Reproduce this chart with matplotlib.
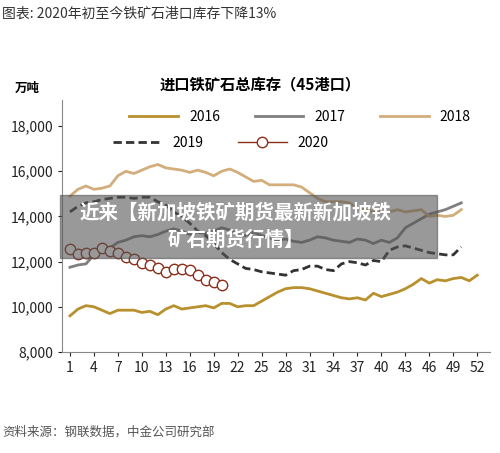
import matplotlib
matplotlib.use("Agg")
import matplotlib.pyplot as plt
from matplotlib.patches import Rectangle

plt.rcParams['font.family'] = ['Noto Sans CJK SC', 'DejaVu Sans']

v2016 = [9600, 9900, 10050, 10000, 9850, 9700, 9850, 9850, 9850, 9750, 9800, 9650, 9900, 10050,
         9900, 9950, 10000, 10050, 9950, 10150, 10150, 10000, 10050, 10050, 10250, 10450, 10650,
         10800, 10850, 10850, 10800, 10700, 10600, 10500, 10400, 10350, 10400, 10300, 10600, 10450,
         10550, 10650, 10800, 11000, 11250, 11050, 11200, 11150, 11250, 11300, 11150, 11400]
v2017 = [11750, 11850, 11900, 12300, 12450, 12600, 12850, 12950, 13100, 13150, 13100, 13200, 13350,
         13450, 13350, 13200, 13300, 13250, 13350, 13500, 13400, 13200, 13150, 13300, 13150, 13050,
         12950, 13000, 12900, 12850, 12950, 13100, 13050, 12950, 12900, 12850, 13000, 12950, 12800,
         12950, 12850, 13050, 13500, 13700, 13900, 14100, 14200, 14300, 14450, 14600]
v2018 = [14900, 15200, 15350, 15200, 15250, 15350, 15800, 16000, 15900, 16050, 16200, 16300, 16150,
         16100, 16050, 15950, 16050, 15950, 15800, 16000, 16100, 15950, 15750, 15550, 15600, 15400,
         15400, 15400, 15400, 15300, 15050, 14800, 14650, 14650, 14650, 14600, 14350, 14300, 14200,
         14200, 14200, 14300, 14200, 14250, 14300, 14000, 14050, 14000, 14050, 14300]
v2019 = [14200, 14450, 14600, 14650, 14750, 14800, 14850, 14850, 14800, 14850, 14850, 14650, 14500,
         14200, 14000, 13700, 13350, 13150, 12800, 12400, 12100, 11900, 11700, 11650, 11550, 11500,
         11450, 11400, 11600, 11650, 11800, 11800, 11650, 11600, 11900, 12000, 11950, 11850, 12050,
         12000, 12500, 12650, 12700, 12600, 12500, 12400, 12350, 12300, 12300, 12650]
v2020 = [12560, 12340, 12380, 12380, 12600, 12470, 12380, 12210, 12120, 11940, 11860, 11720, 11540,
         11680, 11680, 11630, 11410, 11190, 11100, 10970]
xticks = [1, 4, 7, 10, 13, 16, 19, 22, 25, 28, 31, 34, 37, 40, 43, 46, 49, 52]
yticks = [8000, 10000, 12000, 14000, 16000, 18000]

fig = plt.figure(figsize=(5.0, 4.53), dpi=100)
ax = fig.add_axes([0.124, 0.223, 0.856, 0.556])

def wk(v):
    return list(range(1, len(v) + 1))

l16, = ax.plot(wk(v2016), v2016, color='#b8902e', lw=2, label='2016')
l17, = ax.plot(wk(v2017), v2017, color='#7f7f7f', lw=2, label='2017')
l18, = ax.plot(wk(v2018), v2018, color='#d3ad7b', lw=2, label='2018')
l19, = ax.plot(wk(v2019), v2019, color='#333333', lw=2, ls=(0, (3, 1.5)), label='2019')
l20, = ax.plot(wk(v2020), v2020, color='#8b2e1a', lw=1, marker='o', ms=7.5, mfc='white',
               mec='#8b2e1a', mew=1, label='2020')

ax.set_xlim(0.0, 53.6)
ax.set_ylim(8000, 19150)
ax.set_xticks(xticks)
ax.set_yticks(yticks)
ax.set_yticklabels([f'{t:,}' for t in yticks])
ax.tick_params(labelsize=10, length=3, colors='#222222')
for s in ['top', 'right']:
    ax.spines[s].set_visible(False)
ax.spines['left'].set_color('#888888')
ax.spines['bottom'].set_color('#888888')

fig.legend(handles=[l16, l17, l18], loc='center', bbox_to_anchor=(0.6, 1 - 117/453),
           ncol=3, frameon=False, fontsize=10, handlelength=3.5, columnspacing=2.5)
fig.legend(handles=[l19, l20], loc='center left', bbox_to_anchor=(0.2, 1 - 143/453),
           ncol=2, frameon=False, fontsize=10, handlelength=3.5, columnspacing=2.5)

fig.text(0.004, 1 - 14/453, '图表: 2020年初至今铁矿石港口库存下降13%', fontsize=10,
         color='#333333', va='center')
fig.text(0.52, 1 - 85/453, '进口铁矿石总库存（45港口）', fontsize=11, fontweight='bold',
         ha='center', va='center')
fig.text(0.03, 1 - 88/453, '万吨', fontsize=9, fontweight='bold', va='center')
fig.text(0.004, 1 - 432/453, '资料来源：钢联数据，中金公司研究部', fontsize=9,
         color='#555555', va='center')

fig.patches.append(Rectangle((60/500, 1 - 258/453), 377/500, 63/453, transform=fig.transFigure,
                             color='#555555', alpha=0.6, zorder=5))
fig.text(0.472, 1 - 213/453, '近来【新加坡铁矿期货最新新加坡铁', fontsize=14,
         fontweight='bold', color='white', ha='center', va='center', zorder=6)
fig.text(0.472, 1 - 240/453, '矿石期货行情】', fontsize=14,
         fontweight='bold', color='white', ha='center', va='center', zorder=6)

fig.savefig('out.png', dpi=100)
